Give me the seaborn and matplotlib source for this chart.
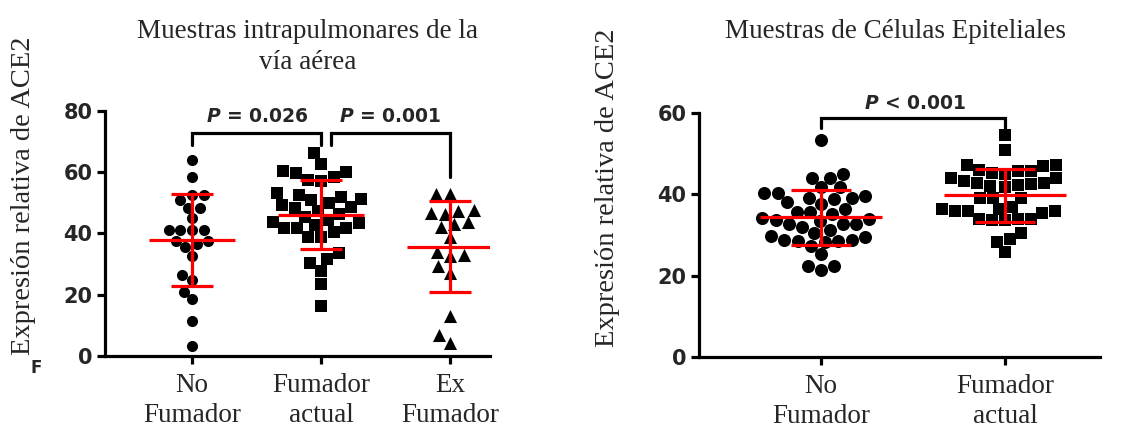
import numpy as np
import pandas as pd
import matplotlib
matplotlib.use("Agg")
import matplotlib.pyplot as plt
import seaborn as sns

# ---------------- data ----------------
left_categories = ["No\nFumador", "Fumador\nactual", "Ex\nFumador"]
left_no_fumador = [64.0, 58.3, 52.6, 52.6, 51.0, 48.4, 48.4, 45.0, 41.2, 41.2, 41.2, 41.2,
                   37.5, 37.5, 36.5, 35.5, 32.5, 26.5, 24.8, 21.0, 18.5, 11.5, 3.4]
left_fumador_actual = [66.2, 62.7, 60.5, 60.0, 59.7, 58.4, 57.5, 57.0, 53.2, 52.5, 52.0, 51.3,
                       51.0, 49.9, 49.3, 48.8, 48.3, 47.5, 46.5, 45.5, 44.5, 43.9, 43.3, 42.8,
                       41.7, 41.7, 41.7, 40.5, 39.0, 39.0, 33.6, 31.6, 30.3, 27.9, 23.5, 16.4]
left_ex_fumador = [52.9, 52.9, 46.3, 47.2, 47.7, 46.6, 43.1, 43.9, 42.0, 38.8, 33.0, 32.7,
                   33.8, 29.5, 27.2, 12.9, 6.9, 4.4]

right_categories = ["No\nFumador", "Fumador\nactual"]
right_no_fumador = [53.4, 44.1, 44.9, 44.0, 41.7, 41.7, 40.3, 39.2, 38.8, 39.2, 39.6, 40.3,
                    37.7, 38.0, 35.7, 35.1, 35.7, 36.4, 32.8, 32.7, 33.8, 33.5, 34.1, 31.9,
                    32.7, 31.3, 29.8, 29.4, 30.5, 28.8, 28.4, 27.4, 28.6, 28.6, 28.8, 25.3,
                    22.5, 21.4, 22.3, 34.0]
right_fumador_actual = [54.7, 50.8, 47.3, 47.0, 47.2, 46.0, 45.7, 45.7, 45.3, 44.9, 43.9, 43.9,
                        43.3, 42.9, 42.9, 42.6, 42.4, 42.0, 41.7, 39.2, 39.0, 39.2, 37.0, 36.5,
                        36.0, 35.9, 35.8, 36.3, 35.5, 34.0, 33.9, 33.7, 33.6, 33.9, 30.6, 29.0,
                        28.2, 25.8]

left_yticks = [0, 20, 40, 60, 80]
right_yticks = [0, 20, 40, 60]
left_title = "Muestras intrapulmonares de la\nvía aérea"
right_title = "Muestras de Células Epiteliales"
ylabel_text = "Expresión relativa de ACE2"
left_p_texts = [r"$P$ = 0.026", r"$P$ = 0.001"]
right_p_text = r"$P$ < 0.001"

# ---------------- style ----------------
sns.set_theme(style="ticks")
plt.rcParams['font.family'] = ['DejaVu Sans']
plt.rcParams['mathtext.fontset'] = 'custom'
plt.rcParams['mathtext.it'] = 'DejaVu Sans:italic:bold'
plt.rcParams['mathtext.rm'] = 'DejaVu Sans:bold'

SERIF = 'Liberation Serif'
LW = 2.3

fig = plt.figure(figsize=(11.21, 4.32), dpi=100)
axL = fig.add_axes([0.09367, 0.17593, 0.34344, 0.56713])
axR = fig.add_axes([0.62355, 0.17361, 0.35772, 0.56481])


def make_df(cats, groups):
    return pd.DataFrame({
        "grupo": np.repeat(cats, [len(g) for g in groups]),
        "valor": np.concatenate([np.asarray(g, float) for g in groups]),
    })


dfL = make_df(left_categories, [left_no_fumador, left_fumador_actual, left_ex_fumador])
dfR = make_df(right_categories, [right_no_fumador, right_fumador_actual])


def draw_panel(ax, df, cats, markers, sizes, yticks, xlim):
    for cat, mk, sz in zip(cats, markers, sizes):
        sns.swarmplot(data=df[df.grupo == cat], x="grupo", y="valor", order=cats,
                      marker=mk, color="black", size=sz, linewidth=0, ax=ax, zorder=2,
                      warn_thresh=1.0)
    stats = df.groupby("grupo", sort=False)["valor"].agg(["mean", "std"]).reindex(cats)
    for i, (m, s) in enumerate(stats.values):
        ax.hlines(m, i - 0.33, i + 0.33, color="red", lw=LW, zorder=5)
        ax.vlines(i, m - s, m + s, color="red", lw=LW, zorder=5)
        ax.hlines([m - s, m + s], i - 0.165, i + 0.165, color="red", lw=LW, zorder=5)
    ax.set_xlim(*xlim)
    ax.set_ylim(yticks[0], yticks[-1])
    ax.set_yticks(yticks)
    ax.set_xticks(range(len(cats)))
    ax.set_xticklabels(cats, fontfamily=SERIF, fontsize=19.5, linespacing=1.3)
    for lbl in ax.get_yticklabels():
        lbl.set_fontweight("bold")
        lbl.set_fontsize(15)
    ax.set_xlabel("")
    ax.set_ylabel("")
    sns.despine(ax=ax)
    for sp in ("left", "bottom"):
        ax.spines[sp].set_linewidth(LW)
        ax.spines[sp].set_color("black")
    ax.tick_params(axis="both", width=LW, length=6, color="black", direction="out")
    ax.tick_params(axis="y", pad=3)
    ax.tick_params(axis="x", pad=6)
    ax.set_facecolor("white")


draw_panel(axL, dfL, left_categories, ["o", "s", "^"], [8.0, 9.2, 9.4],
           left_yticks, (-0.674, 2.31))
draw_panel(axR, dfR, right_categories, ["o", "s"], [9.4, 9.0],
           right_yticks, (-0.663, 1.516))


def bracket(ax, x0, x1, ytop, yl, yr):
    ax.plot([x0, x0, x1, x1], [yl, ytop, ytop, yr], color="black", lw=LW,
            clip_on=False, solid_joinstyle="miter", zorder=6)


# left brackets
bracket(axL, 0, 1, 72.9, 69.0, 69.0)
bracket(axL, 1.08, 2, 72.9, 69.0, 58.5)
axL.text(0.51, 78.2, left_p_texts[0], ha="center", va="center", fontsize=13.5,
         fontweight="bold", clip_on=False)
axL.text(1.535, 78.2, left_p_texts[1], ha="center", va="center", fontsize=13.5,
         fontweight="bold", clip_on=False)
# right bracket
bracket(axR, 0, 1, 58.7, 56.3, 56.3)
axR.text(0.51, 62.4, right_p_text, ha="center", va="center", fontsize=13.5,
         fontweight="bold", clip_on=False)

# titles
fig.text(307.5 / 1121, 1 - 47 / 432, left_title, ha="center", va="center",
         fontfamily=SERIF, fontsize=19.5, linespacing=1.3)
fig.text(895.5 / 1121, 1 - 32 / 432, right_title, ha="center", va="center",
         fontfamily=SERIF, fontsize=19.5)

# y labels
fig.text(24 / 1121, 1 - 196 / 432, ylabel_text, rotation=90, ha="center", va="center",
         fontfamily=SERIF, fontsize=20.5)
fig.text(607 / 1121, 1 - 188 / 432, ylabel_text, rotation=90, ha="center", va="center",
         fontfamily=SERIF, fontsize=20.5)
# stray glyph in the reference
fig.text(36 / 1121, 1 - 368 / 432, "F", ha="center", va="center", fontsize=12,
         fontweight="bold")

fig.savefig("out.png", dpi=100, facecolor="white")
